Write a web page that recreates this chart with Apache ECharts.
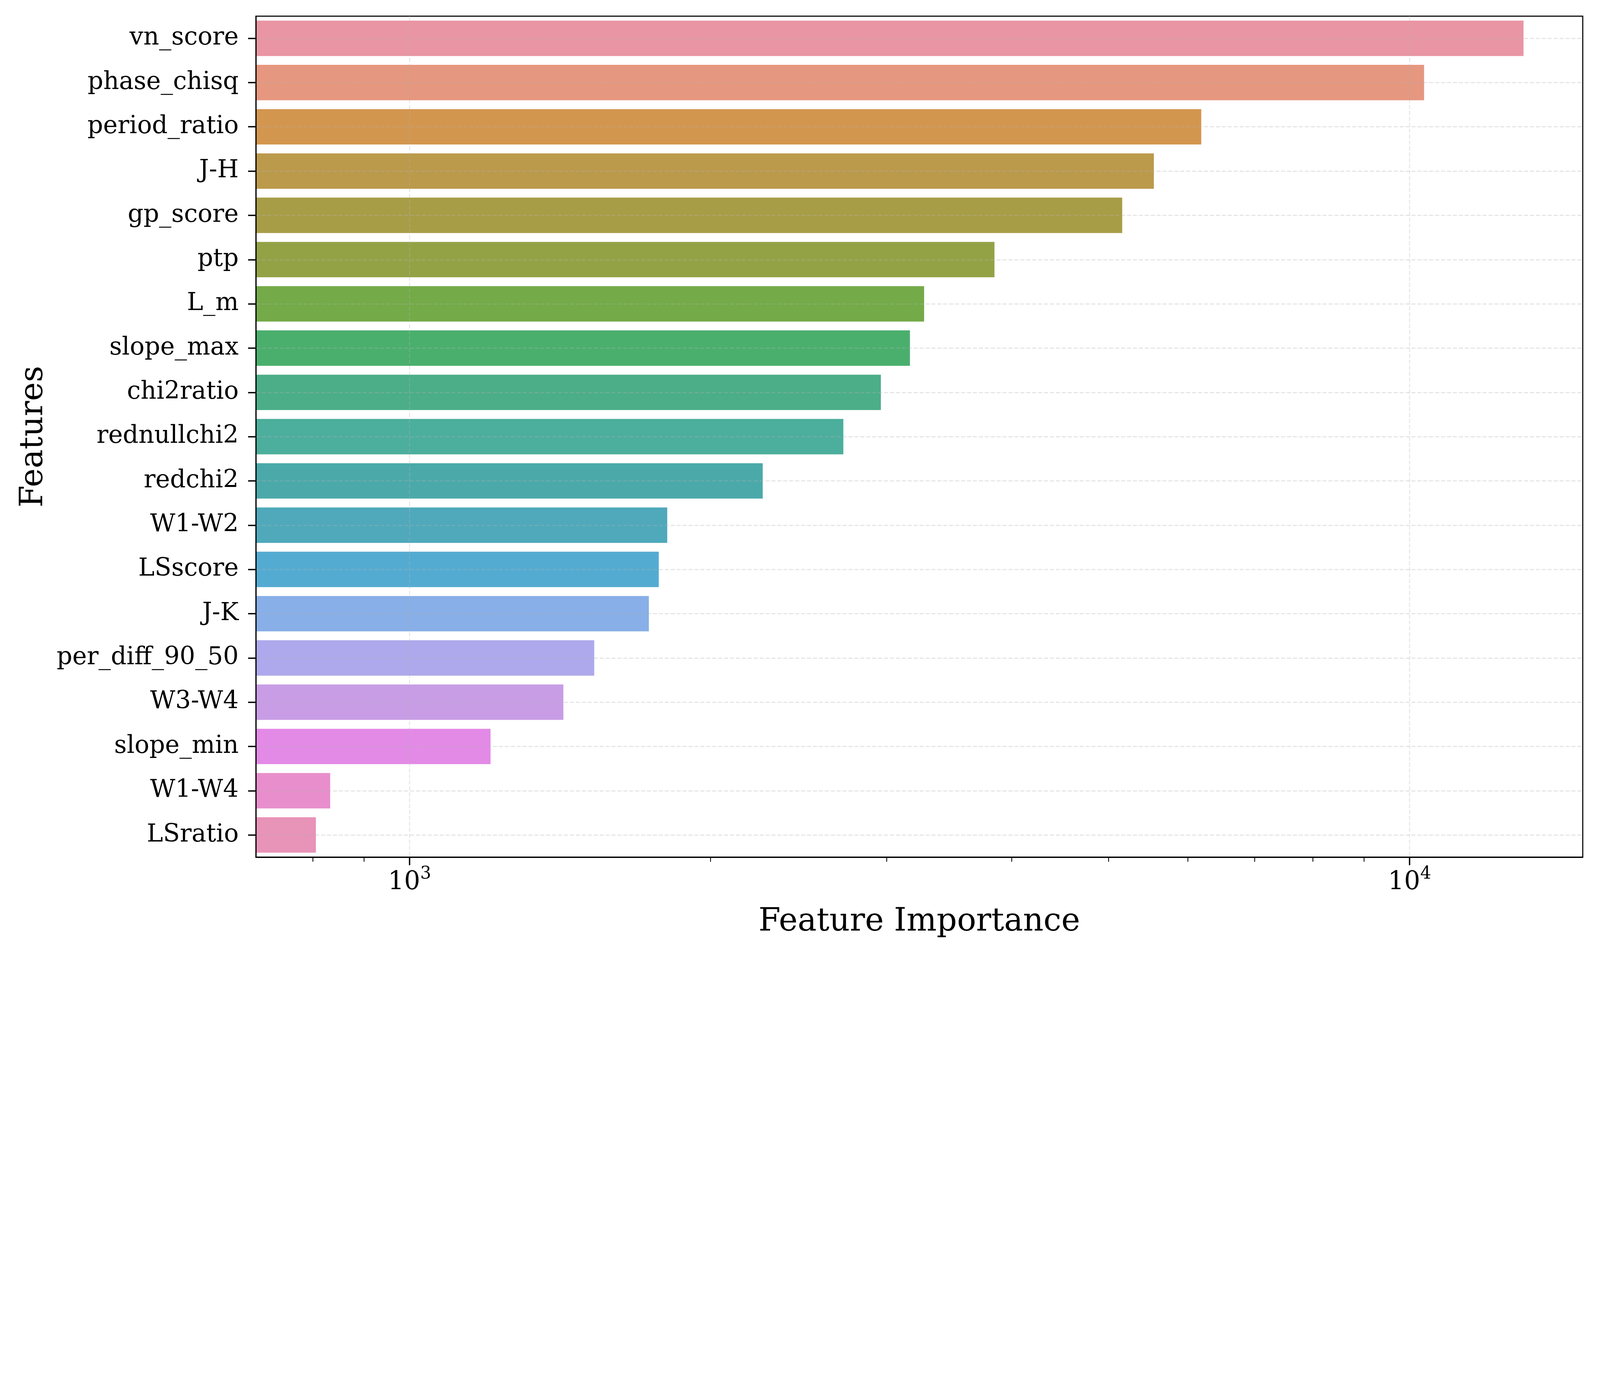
<!DOCTYPE html>
<html>
<head>
<meta charset="utf-8">
<script src="https://cdn.jsdelivr.net/npm/echarts@6/dist/echarts.min.js"></script>
<style>
html,body{margin:0;padding:0;background:#fff;overflow:hidden;}
#chart{width:100vw;height:100vh;}
</style>
</head>
<body>
<div id="chart"></div>
<script>
const categories = ['vn_score','phase_chisq','period_ratio','J-H','gp_score','ptp','L_m','slope_max','chi2ratio','rednullchi2','redchi2','W1-W2','LSscore','J-K','per_diff_90_50','W3-W4','slope_min','W1-W4','LSratio'];
const importance = [13000, 10340, 6190, 5550, 5160, 3845, 3270, 3165, 2960, 2715, 2255, 1810, 1775, 1735, 1530, 1425, 1205, 833, 806];
const barColors = ['#E995A3','#E6977F','#D3964F','#BB9A4C','#A89D47','#94A246','#74AA48','#4AAF6D','#4BAE89','#4CAE9C','#4BA9AA','#4FA9BB','#54ABD1','#88AFE7','#AEA9EC','#C89DE6','#E38AE7','#E88ECC','#E893B8'];
const majorTicks = [1000, 10000];
const minorTicks = [800, 900, 2000, 3000, 4000, 5000, 6000, 7000, 8000, 9000];
const xMin = 702, xMax = 14900;

// layout is designed on a 5940 x 3539 device-pixel canvas; scale to CSS pixels
const S = Math.min(window.innerWidth / 5940, window.innerHeight / 3539);
const p = v => v * S;

const FONT = 'DejaVu Serif';
const gridColor = 'rgba(176,176,176,0.32)';
const chart = echarts.init(document.getElementById('chart'), null, {renderer: 'canvas'});

const barData = importance.map((v, i) => ({value: v, itemStyle: {color: barColors[i]}}));
const hLines = categories.map(c => ({yAxis: c}));
const vLines = majorTicks.map(v => ({xAxis: v}));

function tickAxis(values, len, w) {
  return {
    type: 'log', logBase: 10, min: xMin, max: xMax, position: 'bottom', z: 5,
    axisLine: {show: false},
    axisTick: {show: true, customValues: values, length: p(len), lineStyle: {color: '#000', width: p(w)}},
    axisLabel: {show: false},
    splitLine: {show: false}
  };
}

chart.setOption({
  animation: false,
  backgroundColor: '#fff',
  grid: {left: p(950), top: p(60), width: p(4926), height: p(3123), show: true, borderColor: '#000', borderWidth: p(4), backgroundColor: 'transparent', containLabel: false},
  xAxis: [{
    type: 'log', logBase: 10, min: xMin, max: xMax, position: 'bottom', z: 5,
    name: 'Feature Importance', nameLocation: 'middle', nameGap: p(184),
    nameTextStyle: {fontFamily: FONT, fontSize: p(118), color: '#000'},
    axisLine: {show: true, onZero: false, lineStyle: {color: '#000', width: p(4)}},
    axisTick: {show: false},
    axisLabel: {
      customValues: majorTicks, margin: p(32),
      formatter: function (v) { return '{b|10}{s|' + Math.round(Math.log10(v)) + '}'; },
      rich: {
        b: {fontFamily: FONT, fontSize: p(94), color: '#000', lineHeight: p(110), verticalAlign: 'bottom'},
        s: {fontFamily: FONT, fontSize: p(64), color: '#000', lineHeight: p(110), verticalAlign: 'top'}
      }
    },
    splitLine: {show: false}
  }, tickAxis(minorTicks, 17, 3), tickAxis(majorTicks, 30, 5)],
  yAxis: {
    type: 'category', data: categories, inverse: true, z: 5,
    name: 'Features', nameLocation: 'middle', nameGap: p(766), nameRotate: 90,
    nameTextStyle: {fontFamily: FONT, fontSize: p(118), color: '#000'},
    axisLine: {show: true, lineStyle: {color: '#000', width: p(4)}},
    axisTick: {show: true, alignWithLabel: true, length: p(29), lineStyle: {color: '#000', width: p(5)}},
    axisLabel: {margin: p(64), fontFamily: FONT, fontSize: p(91), color: '#000'},
    splitLine: {show: false}
  },
  series: [{
    type: 'bar', xAxisIndex: 0, yAxisIndex: 0,
    data: barData, barCategoryGap: '20%', clip: true,
    markLine: {
      silent: true, symbol: ['none', 'none'], label: {show: false},
      lineStyle: {color: gridColor, width: p(4), type: [p(15), p(7)]},
      emphasis: {disabled: true},
      data: hLines.concat(vLines)
    }
  }]
});
</script>
</body>
</html>
